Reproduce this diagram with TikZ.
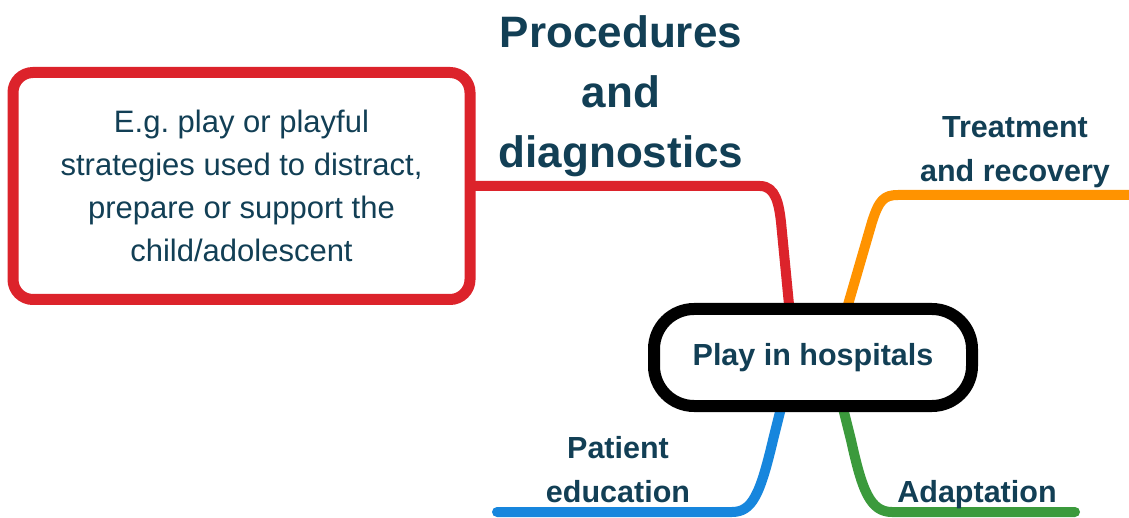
\documentclass[tikz,border=0pt]{standalone}
\usepackage{fontspec}
\setmainfont{Liberation Sans}
\definecolor{txtc}{HTML}{123F55}
\definecolor{redc}{HTML}{DC232B}
\definecolor{orac}{HTML}{FF9300}
\definecolor{bluc}{HTML}{1786DD}
\definecolor{grnc}{HTML}{3B9A3C}
\begin{document}
\begin{tikzpicture}[x=1pt,y=-1pt,
  branch/.style={line width=10pt,line cap=round,line join=round},
  lbl/.style={text=txtc,font=\fontsize{30.5}{44}\selectfont\bfseries,align=center,inner sep=0pt},
  biglbl/.style={text=txtc,font=\fontsize{44}{60}\selectfont\bfseries,align=center,inner sep=0pt},
  hubbox/.style={draw=black,fill=white,line width=12pt,rounded corners=40pt,minimum width=318pt,minimum height=97pt,inner sep=0pt,text=txtc,font=\fontsize{30.5}{36}\selectfont\bfseries},
  notebox/.style={draw=redc,fill=white,line width=11pt,rounded corners=20pt,minimum width=457pt,minimum height=227pt,inner sep=0pt,text=txtc,align=center,font=\fontsize{31}{43}\selectfont\frenchspacing}
]
\useasboundingbox (0,0) rectangle (1129,518);
\fill[white] (0,0) rectangle (1129,518);

% branch end points
\coordinate (rEnd) at (790,315);
\coordinate (oEnd) at (845,315);
\coordinate (oFree) at (1129,195);
\coordinate (bEnd) at (783,400);
\coordinate (bFree) at (497,512);
\coordinate (gEnd) at (841,400);
\coordinate (gFree) at (1075,512);

\node[notebox] (note) at (241.5,186) {\raisebox{0pt}[0pt][0pt]{}E.g.\ play or playful\\strategies used to distract,\\prepare or support the\\child/adolescent};

% branches
\draw[branch,redc] (note.east) -- (760,186) .. controls (776,186) and (779,205) .. (781,222) -- (rEnd);
\draw[branch,orac] (oEnd) -- (872,222) .. controls (879,200) and (884,195) .. (898,195) -- (oFree);
\draw[branch,bluc] (bEnd) -- (773,440) .. controls (760,495) and (752,512) .. (732,512) -- (bFree);
\draw[branch,grnc] (gEnd) -- (851,440) .. controls (862,490) and (870,512) .. (892,512) -- (gFree);

\node[hubbox] (hub) at (813,357.5) {\raisebox{-2pt}{Play in hospitals}};

\node[biglbl] (proc) at (621,96) {Procedures\\and\\diagnostics};
\node[lbl] (treat) at (1015,152) {Treatment\\and recovery};
\node[lbl] (pat) at (618,470) {Patient\\education};
\node[lbl] (adapt) at (977,495) {Adaptation};
\end{tikzpicture}
\end{document}
